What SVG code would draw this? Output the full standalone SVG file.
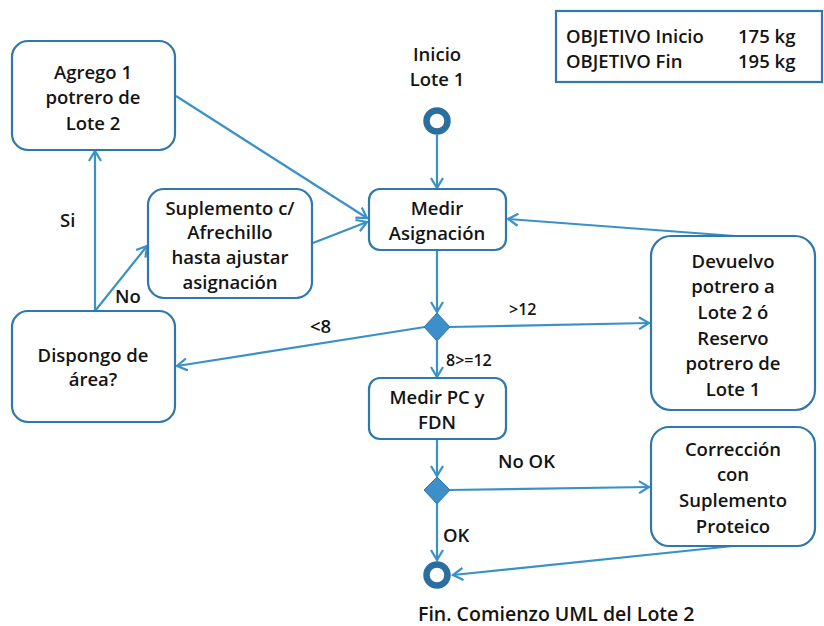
<svg xmlns="http://www.w3.org/2000/svg" width="824" height="626" viewBox="0 0 824 626">
<style>
.box{fill:#fff;stroke:#2f78ab;stroke-width:2.2}
.t{font-family:"Open Sans",Lato,sans-serif;font-weight:600;font-size:18.5px;fill:#141414;text-anchor:middle}
.l{font-family:"Open Sans",Lato,sans-serif;font-weight:600;font-size:18.5px;fill:#141414}
.s{font-size:16px}
.c{fill:none;stroke:#3a91c8;stroke-width:2.2}
</style>
<defs>
<marker id="a" markerWidth="14" markerHeight="14" refX="11" refY="7" orient="auto" markerUnits="userSpaceOnUse">
<path d="M1,1 L11,7 L1,13" fill="none" stroke="#3a91c8" stroke-width="2.2"/>
</marker>
</defs>
<rect width="824" height="626" fill="#fff"/>
<g id="connectors">
<line class="c" x1="437" y1="135" x2="437" y2="188" marker-end="url(#a)"/>
<line class="c" x1="176" y1="96" x2="367" y2="218" marker-end="url(#a)"/>
<line class="c" x1="313" y1="243" x2="367" y2="222" marker-end="url(#a)"/>
<line class="c" x1="95" y1="311" x2="95" y2="151" marker-end="url(#a)"/>
<line class="c" x1="95" y1="311" x2="147" y2="246" marker-end="url(#a)"/>
<line class="c" x1="437" y1="250" x2="437" y2="312" marker-end="url(#a)"/>
<line class="c" x1="425" y1="327" x2="177" y2="366" marker-end="url(#a)"/>
<line class="c" x1="449" y1="327" x2="649" y2="323" marker-end="url(#a)"/>
<line class="c" x1="735" y1="236" x2="508" y2="219" marker-end="url(#a)"/>
<line class="c" x1="437" y1="341" x2="437" y2="377" marker-end="url(#a)"/>
<line class="c" x1="437" y1="439" x2="437" y2="476" marker-end="url(#a)"/>
<line class="c" x1="449" y1="490" x2="649" y2="487" marker-end="url(#a)"/>
<line class="c" x1="437" y1="504" x2="437" y2="560" marker-end="url(#a)"/>
<line class="c" x1="733" y1="546" x2="453" y2="575" marker-end="url(#a)"/>
<text class="l" x="60" y="227">Si</text>
<text class="l" x="115" y="303">No</text>
<text class="l" x="310" y="333">&lt;8</text>
<text class="l s" x="509" y="315">&gt;12</text>
<text class="l s" x="446" y="366">8&gt;=12</text>
<text class="l" x="498" y="468">No OK</text>
<text class="l" x="443" y="542">OK</text>
</g>
<g id="objetivo">
<rect x="556" y="11" width="266" height="71" fill="#fff" stroke="#2f78ab" stroke-width="2.2"/>
<text class="l" x="566" y="43">OBJETIVO Inicio</text>
<text class="l" x="738" y="43">175 kg</text>
<text class="l" x="566" y="68">OBJETIVO Fin</text>
<text class="l" x="738" y="68">195 kg</text>
</g>
<g id="inicio">
<text class="t" x="437" y="61">Inicio</text>
<text class="t" x="437" y="86">Lote 1</text>
<circle cx="437" cy="121" r="10.5" fill="#fff" stroke="#2a6fa0" stroke-width="6.5"/>
</g>
<g id="agrego">
<rect class="box" x="12" y="41" width="163" height="109" rx="16"/>
<text class="t" x="93" y="79">Agrego 1</text>
<text class="t" x="93" y="104">potrero de</text>
<text class="t" x="93" y="130">Lote 2</text>
</g>
<g id="suplemento">
<rect class="box" x="148" y="189" width="164" height="109" rx="16"/>
<text class="t" x="230" y="215">Suplemento c/</text>
<text class="t" x="230" y="239">Afrechillo</text>
<text class="t" x="230" y="264">hasta ajustar</text>
<text class="t" x="230" y="289">asignación</text>
</g>
<g id="medir-asignacion">
<rect class="box" x="369" y="189" width="137" height="61" rx="11"/>
<text class="t" x="437" y="215">Medir</text>
<text class="t" x="437" y="240">Asignación</text>
</g>
<g id="dispongo">
<rect class="box" x="12" y="311" width="163" height="111" rx="16"/>
<text class="t" x="93" y="362">Dispongo de</text>
<text class="t" x="93" y="386">área?</text>
</g>
<g id="decision1">
<polygon points="437,313 450,327 437,341 424,327" fill="#3d8fca" stroke="#2f78ab" stroke-width="1"/>
</g>
<g id="devuelvo">
<rect class="box" x="651" y="236" width="164" height="174" rx="20"/>
<text class="t" x="733" y="268">Devuelvo</text>
<text class="t" x="733" y="293">potrero a</text>
<text class="t" x="733" y="319">Lote 2 ó</text>
<text class="t" x="733" y="345">Reservo</text>
<text class="t" x="733" y="370">potrero de</text>
<text class="t" x="733" y="396">Lote 1</text>
</g>
<g id="medir-pc">
<rect class="box" x="369" y="378" width="137" height="61" rx="11"/>
<text class="t" x="437" y="404">Medir PC y</text>
<text class="t" x="437" y="429">FDN</text>
</g>
<g id="decision2">
<polygon points="437,477 450,490 437,504 424,490" fill="#3d8fca" stroke="#2f78ab" stroke-width="1"/>
</g>
<g id="correccion">
<rect class="box" x="651" y="427" width="164" height="119" rx="18"/>
<text class="t" x="733" y="456">Corrección</text>
<text class="t" x="733" y="481">con</text>
<text class="t" x="733" y="507">Suplemento</text>
<text class="t" x="733" y="533">Proteico</text>
</g>
<g id="fin">
<circle cx="437" cy="575" r="10.5" fill="#fff" stroke="#2a6fa0" stroke-width="6.5"/>
<text class="l" x="418" y="621" style="font-size:19.5px">Fin. Comienzo UML del Lote 2</text>
</g>
</svg>
